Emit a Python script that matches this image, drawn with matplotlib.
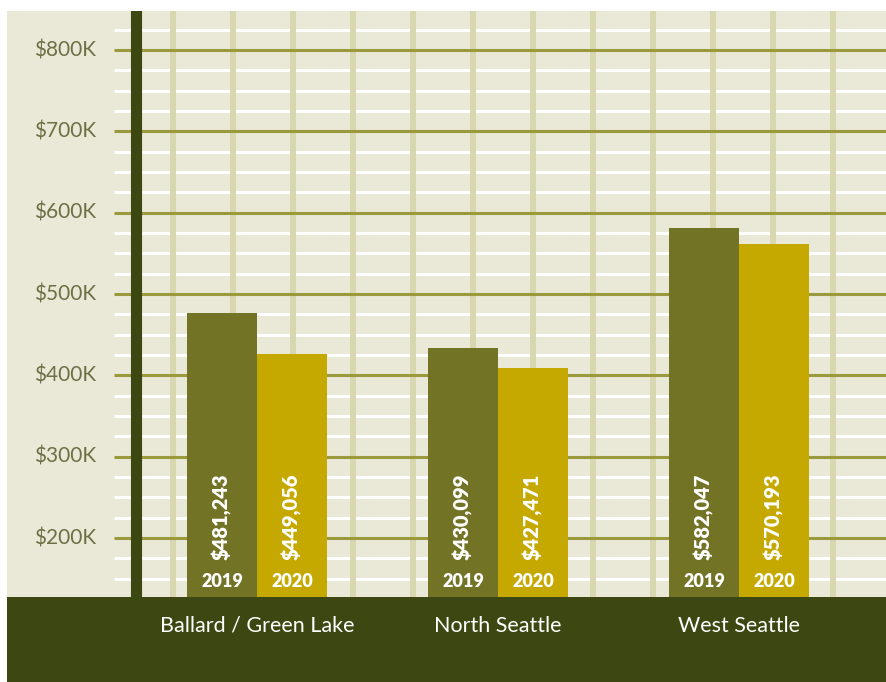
import matplotlib.pyplot as plt
from matplotlib.patches import Rectangle
from matplotlib.transforms import blended_transform_factory

# Data
regions = ["Ballard / Green Lake", "North Seattle", "West Seattle"]
years = ["2019", "2020"]
# bar heights in $K as drawn in the source graphic
values_2019 = [477, 434, 581]
values_2020 = [426, 409, 561]
labels_2019 = ["$481,243", "$430,099", "$582,047"]
labels_2020 = ["$449,056", "$427,471", "$570,193"]
major_ticks = [200, 300, 400, 500, 600, 700, 800]
tick_labels = ["$200K", "$300K", "$400K", "$500K", "$600K", "$700K", "$800K"]

# Colours
cream = "#eae9d7"
stripe = "#d8d7b0"
major_col = "#9a9a3c"
dark = "#3d4711"
c2019 = "#737326"
c2020 = "#c5a900"
tick_col = "#6b7045"

plt.rcParams['font.family'] = ['Lato', 'DejaVu Sans']

fig = plt.figure(figsize=(8.87, 6.82), dpi=100)
W, H = 887, 682

# bottom dark band
fig.patches.append(Rectangle((7 / W, 0), 880 / W, 85 / H, transform=fig.transFigure,
                             facecolor=dark, edgecolor="none", zorder=-1))

ax = fig.add_axes([7 / W, 85 / H, 880 / W, 586 / H])
ax.set_facecolor(cream)
for s in ax.spines.values():
    s.set_visible(False)
ax.set_xticks([])
ax.set_yticks([])

px = 241.0  # pixels per category
xmin, xmax = (7 - 257) / px, (887 - 257) / px
ax.set_xlim(xmin, xmax)
ax.set_ylim(127.5, 848)

line_start = (114 - 257) / px

# minor white lines every 25K
minor = [v for v in range(150, 850, 25) if v % 100 != 0]
ax.hlines(minor, line_start, xmax, color="white", lw=2.2, zorder=1)

# vertical stripes
stripes = [(173 + 60 * k - 257) / px for k in range(12)]
for sx in stripes:
    ax.axvline(sx, color=stripe, lw=4.3, zorder=2)

# major lines
ax.hlines(major_ticks, line_start, xmax, color=major_col, lw=2.2, zorder=3)

# dark vertical bar
ax.axvline((135.5 - 257) / px, color=dark, lw=8.0, zorder=4)

# bars
w = 70 / px
xs = list(range(len(regions)))
ax.bar([x - w / 2 for x in xs], values_2019, width=w, color=c2019, zorder=5)
ax.bar([x + w / 2 for x in xs], values_2020, width=w, color=c2020, zorder=5)

for x, l1, l2 in zip(xs, labels_2019, labels_2020):
    for dx, lab, yr in [(-w / 2, l1, years[0]), (w / 2, l2, years[1])]:
        ax.text(x + dx, 173, lab, rotation=90, ha="center", va="bottom",
                color="white", fontsize=14.5, fontweight="heavy", zorder=6)
        ax.text(x + dx, 147, yr, ha="center", va="center",
                color="white", fontsize=13, fontweight="heavy", zorder=6)

# y tick labels
for v, t in zip(major_ticks, tick_labels):
    ax.text((96 - 257) / px, v, t, ha="right", va="center",
            color=tick_col, fontsize=15, zorder=6)

# category labels
trans = blended_transform_factory(ax.transData, ax.transAxes)
for x, r in zip(xs, regions):
    ax.text(x, -29 / 586, r, transform=trans, ha="center", va="center",
            color="white", fontsize=15.5, clip_on=False, zorder=10)

fig.savefig("out.png", dpi=100)
